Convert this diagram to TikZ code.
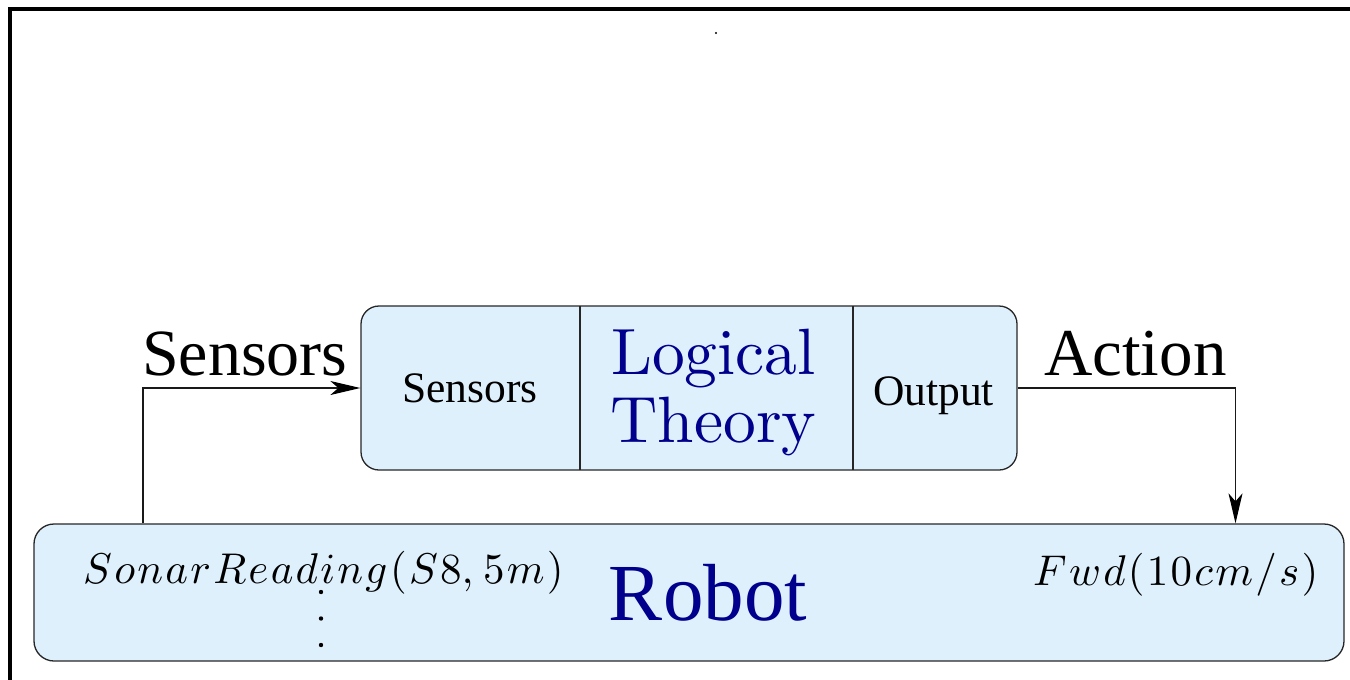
\documentclass[tikz,border=0pt]{standalone}
\usepackage{graphicx}
\usepackage{fontspec}
\setmainfont{Liberation Serif}
\newfontfamily\lmr{Latin Modern Roman}
\usetikzlibrary{arrows.meta}

\definecolor{panel}{RGB}{223,240,253}
\definecolor{navytext}{RGB}{0,0,140}

\tikzset{
  panelbox/.style={draw=black!85, line width=1.3pt, fill=panel, inner sep=0pt},
  arr/.style={draw=black!90, line width=1.2pt, -{Stealth[length=30pt,width=14pt,inset=8pt,black]}},
  lbl/.style={inner sep=0pt, anchor=base},
  bigfont/.style={font=\fontsize{66}{70}\selectfont},
  midfont/.style={font=\fontsize{43.5}{48}\selectfont},
  dotmark/.style={fill=black, circle, inner sep=0pt, minimum size=4.4pt},
}

% letter-spaced math text, set at 10pt and enlarged
\newcommand\ls{\mkern0.95mu}
\newcommand\bigmath[1]{\scalebox{4.3}{$#1$}}
% Latin Modern set at its 10pt design and enlarged
\newcommand\bigroman[1]{\scalebox{6.55}{\lmr\fontsize{10}{12}\selectfont #1}}

\begin{document}
\begin{tikzpicture}[x=1pt, y=-1pt]
\useasboundingbox (0,0) rectangle (1350,680);

% frame on the left and top edges
\draw[line width=4pt, line join=miter] (10.3,682) |- (1352,8.8);
\fill (716,33) circle (1.1pt);

% logical theory panel with its three cells
\node[panelbox, rounded corners=18pt, minimum width=656pt, minimum height=164pt]
  (ltbox) at (689,388) {};
\draw[draw=black!85, line width=1.3pt] (580,306) -- (580,470);
\draw[draw=black!85, line width=1.3pt] (853,306) -- (853,470);

\node[lbl, midfont] (insens) at (470,402) {Sensors};
\node[lbl, midfont] (outp) at (933.5,405) {Output};
\node[lbl, text=navytext] (theoryA) at (713.5,374) {\bigroman{Logical}};
\node[lbl, text=navytext] (theoryB) at (713.5,442) {\bigroman{Theory}};

% robot panel
\node[panelbox, rounded corners=20pt, minimum width=1310pt, minimum height=137pt]
  (robot) at (689,592.5) {};
\node[lbl, text=navytext, font=\fontsize{81}{85}\selectfont] (robotlbl) at (708,620) {Robot};

\node[lbl, anchor=base west] (sonar) at (83,583)
  {\bigmath{S\ls o\ls n\ls a\ls r\ls R\ls e\ls a\ls d\ls i\ls n\ls g\ls(\ls S\ls 8,\ls 5\ls m\ls)}};
\node[lbl, anchor=base west] (fwd) at (1033,585)
  {\bigmath{F\ls w\ls d\ls(\ls 1\ls 0\ls c\ls m\ls/\ls s\ls)}};

% vertical ellipsis below the sonar reading
\node[dotmark] (dotA) at (321,592) {};
\node[dotmark] (dotB) at (321,618.5) {};
\node[dotmark] (dotC) at (321,645) {};

% signal flow between robot and theory
\coordinate (sx) at (143,0);
\coordinate (ax) at (1235.5,0);
\draw[arr] (robot.north -| sx) |- (ltbox.west);
\draw[arr] (ltbox.east) -| (robot.north -| ax);

\node[lbl, bigfont, anchor=base west] (sensLbl) at (142,375) {Sensors};
\node[lbl, anchor=base west, font=\fontsize{67}{70}\selectfont] (actLbl) at (1044,375) {Action};
\end{tikzpicture}
\end{document}
